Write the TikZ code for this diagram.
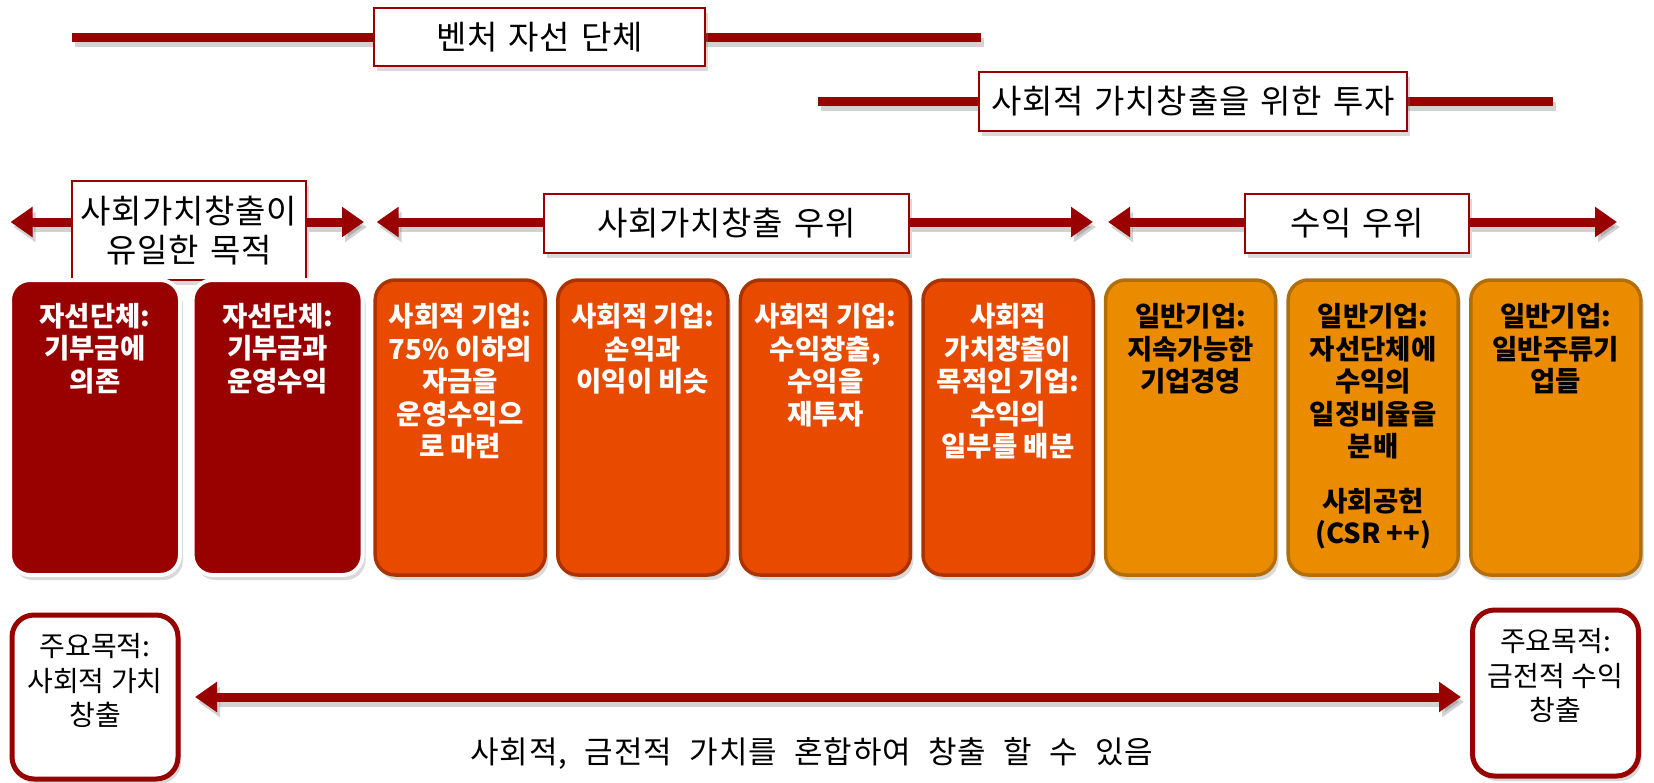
\documentclass[tikz,border=0pt]{standalone}
\usepackage{fontspec}
\setmainfont{Noto Sans CJK KR}
\newfontfamily\widefont{Noto Sans CJK KR}[WordSpace=2.2,LetterSpace=3]
\newfontfamily\lblfont{Noto Sans CJK KR}[WordSpace=1.4,LetterSpace=2]
\usetikzlibrary{shadows,arrows.meta}
\definecolor{dred}{HTML}{990000}
\definecolor{ored}{HTML}{E84A00}
\definecolor{oredb}{HTML}{AB3300}
\definecolor{org}{HTML}{EB8C00}
\definecolor{orgb}{HTML}{B36E08}
\begin{document}
\begin{tikzpicture}[x=1pt,y=-1pt,
  shd/.style={drop shadow={shadow xshift=3pt,shadow yshift=-5pt,opacity=.3}},
  lbl/.style={draw=dred, line width=1.8pt, fill=white, inner sep=0pt, align=center,
    font=\fontsize{33}{39}\lblfont, shd},
  bar/.style={line width=9pt, draw=dred},
  shbar/.style={line width=9pt, draw=black!70, opacity=.25},
  tip/.style={-{Triangle[length=22pt,width=29pt]}},
  dtip/.style={{Triangle[length=22pt,width=29pt]}-{Triangle[length=22pt,width=29pt]}},
  mbox/.style={minimum width=170pt, minimum height=295pt, rounded corners=20pt, inner sep=0pt, shd},
  redbox/.style={mbox, fill=dred, draw=white, line width=4pt},
  orbox/.style={mbox, fill=ored, draw=oredb, line width=3.5pt},
  ogbox/.style={mbox, fill=org, draw=orgb, line width=3.5pt},
  btxt/.style={anchor=north, inner sep=0pt, align=center, font=\fontsize{27.5}{32.5}\selectfont\bfseries},
  endbox/.style={draw=dred, line width=5pt, fill=white, rounded corners=22pt, minimum width=166pt, shd},
  etxt/.style={anchor=north, inner sep=0pt, align=center, font=\fontsize{28}{34.5}\selectfont}
]
\useasboundingbox (0,0) rectangle (1654,782);

% coordinates
\coordinate (l1a) at (72,37);
\coordinate (l1b) at (981,37);
\coordinate (l2a) at (818,101);
\coordinate (l2b) at (1553,101);
\coordinate (aL) at (10.5,222);
\coordinate (aR) at (364,222);
\coordinate (bL) at (376.6,222);
\coordinate (bR) at (1093,222);
\coordinate (cL) at (1108,222);
\coordinate (cR) at (1617,222);
\coordinate (aW) at (72,222);
\coordinate (aE) at (306,222);
\coordinate (bW) at (544,222);
\coordinate (bE) at (909,222);
\coordinate (cW) at (1245,222);
\coordinate (cE) at (1469,222);
\coordinate (dL) at (195,697);
\coordinate (dR) at (1461,697);

% shadows of bars and arrows
\begin{scope}[transform canvas={shift={(3pt,-5pt)}}]
\draw[shbar] (l1a) -- (l1b);
\draw[shbar] (l2a) -- (l2b);
\draw[shbar, tip] (aW) -- (aL);
\draw[shbar, tip] (aE) -- (aR);
\draw[shbar, tip] (bW) -- (bL);
\draw[shbar, tip] (bE) -- (bR);
\draw[shbar, tip] (cW) -- (cL);
\draw[shbar, tip] (cE) -- (cR);
\draw[shbar, dtip] (dL) -- (dR);
\end{scope}

% top bars
\draw[bar] (l1a) -- (l1b);
\draw[bar] (l2a) -- (l2b);
\node[lbl, minimum width=331pt, minimum height=58pt] (top1) at (539.5,37) {벤처 자선 단체};
\node[lbl, minimum width=428pt, minimum height=59pt] (top2) at (1193,101.5) {사회적 가치창출을 위한 투자};

% arrow row
\node[lbl, minimum width=234pt, minimum height=99pt] (rA) at (189,230.5) {사회가치창출이\\유일한 목적};
\node[lbl, minimum width=365pt, minimum height=59pt] (rB) at (726.5,223.5) {사회가치창출 우위};
\node[lbl, minimum width=224pt, minimum height=59pt] (rC) at (1357,223.5) {수익 우위};
\draw[bar, tip] (rA.west |- aL) -- (aL);
\draw[bar, tip] (rA.east |- aR) -- (aR);
\draw[bar, tip] (rB.west |- bL) -- (bL);
\draw[bar, tip] (rB.east |- bR) -- (bR);
\draw[bar, tip] (rC.west |- cL) -- (cL);
\draw[bar, tip] (rC.east |- cR) -- (cR);

% main boxes
\node[redbox] (b1) at (95,427.5) {};
\node[redbox] (b2) at (277.6,427.5) {};
\node[orbox] (b3) at (460.2,427.5) {};
\node[orbox] (b4) at (642.8,427.5) {};
\node[orbox] (b5) at (825.4,427.5) {};
\node[orbox] (b6) at (1008,427.5) {};
\node[ogbox] (b7) at (1190.6,427.5) {};
\node[ogbox] (b8) at (1373.2,427.5) {};
\node[ogbox] (b9) at (1555.8,427.5) {};

\node[btxt, text=white] (t1) at ([yshift=-25pt]b1.north) {자선단체:\\기부금에\\의존};
\node[btxt, text=white] (t2) at ([yshift=-25pt]b2.north) {자선단체:\\기부금과\\운영수익};
\node[btxt, text=white] (t3) at ([yshift=-25pt]b3.north) {사회적 기업:\\75\% 이하의\\자금을\\운영수익으\\로 마련};
\node[btxt, text=white] (t4) at ([yshift=-25pt]b4.north) {사회적 기업:\\손익과\\이익이 비슷};
\node[btxt, text=white] (t5) at ([yshift=-25pt]b5.north) {사회적 기업:\\수익창출,\\수익을\\재투자};
\node[btxt, text=white] (t6) at ([yshift=-25pt]b6.north) {사회적\\가치창출이\\목적인 기업:\\수익의\\일부를 배분};
\node[btxt, text=black] (t7) at ([yshift=-25pt]b7.north) {일반기업:\\지속가능한\\기업경영};
\node[btxt, text=black] (t8) at ([yshift=-25pt]b8.north) {일반기업:\\자선단체에\\수익의\\일정비율을\\분배\\[22pt]사회공헌\\(CSR ++)};
\node[btxt, text=black] (t9) at ([yshift=-25pt]b9.north) {일반기업:\\일반주류기\\업들};

% bottom
\node[endbox, minimum height=164pt] (eL) at (95,697) {};
\node[endbox, minimum height=166pt] (eR) at (1555.5,693) {};
\node[etxt] (eLt) at ([yshift=-21pt]eL.north) {주요목적:\\사회적 가치\\창출};
\node[etxt] (eRt) at ([yshift=-21pt]eR.north) {주요목적:\\금전적 수익\\창출};
\draw[bar, dtip] (dL) -- (dR);
\node[inner sep=0pt, font=\fontsize{31}{35}\widefont] (mix) at (812,753) {사회적, 금전적 가치를 혼합하여 창출 할 수 있음};
\end{tikzpicture}
\end{document}
